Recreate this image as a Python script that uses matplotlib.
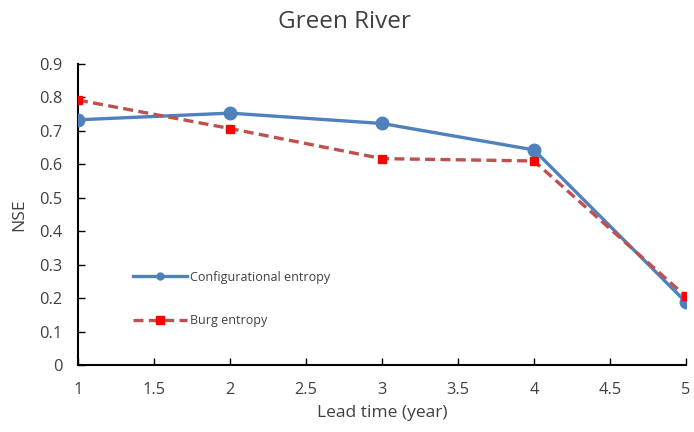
import matplotlib
matplotlib.use("Agg")
import matplotlib.pyplot as plt
from matplotlib.lines import Line2D

lead_time = [1, 2, 3, 4, 5]
configurational = [0.733, 0.753, 0.722, 0.643, 0.188]
burg = [0.792, 0.707, 0.617, 0.610, 0.205]
x_ticks = [1, 1.5, 2, 2.5, 3, 3.5, 4, 4.5, 5]
y_ticks = [0, 0.1, 0.2, 0.3, 0.4, 0.5, 0.6, 0.7, 0.8, 0.9]

plt.rcParams['font.family'] = ['Open Sans', 'DejaVu Sans']
text_grey = '#404040'
blue = '#4F81BD'
red_line = '#C0504D'
red_marker = '#FF0000'
dash = (0, (3, 1.6))

fig = plt.figure(figsize=(6.94, 4.32), dpi=100)
ax = fig.add_axes([0.1124, 0.155, 0.876, 0.697])

ax.plot(lead_time, configurational, color=blue, lw=2.4, marker='o',
        markersize=9, zorder=3)
ax.plot(lead_time, burg, color=red_line, lw=2.4, ls=dash, marker='s',
        markersize=5.5, markerfacecolor=red_marker, markeredgecolor=red_marker,
        zorder=4)

ax.set_xlim(1, 5)
ax.set_ylim(0, 0.9)
ax.set_xticks(x_ticks)
ax.set_xticklabels([f"{t:g}" for t in x_ticks])
ax.set_yticks(y_ticks)
ax.set_yticklabels(["0"] + [f"{t:.1f}" for t in y_ticks[1:]])
ax.tick_params(direction='in', length=5, width=1, labelsize=11.8,
               colors='black', labelcolor=text_grey)
ax.tick_params(axis='y', pad=11)
ax.tick_params(axis='x', pad=12.5)
for side in ('top', 'right'):
    ax.spines[side].set_visible(False)
for side in ('left', 'bottom'):
    ax.spines[side].set_linewidth(1.5)
    ax.spines[side].set_color('black')

fig.text(0.497, 0.948, 'Green River', fontsize=17.5, color=text_grey,
         ha='center', va='center')
ax.set_xlabel('Lead time (year)', fontsize=12.5, color=text_grey, labelpad=5)
ax.set_ylabel('NSE', fontsize=12.5, color=text_grey, labelpad=9)

handles = [
    Line2D([], [], color=blue, lw=2.4, marker='o', markersize=5),
    Line2D([], [], color=red_line, lw=2.4, ls=dash, marker='s', markersize=5.5,
           markerfacecolor=red_marker, markeredgecolor=red_marker),
]
leg = ax.legend(handles, ['Configurational entropy', 'Burg entropy'],
                loc='upper left', bbox_to_anchor=(0.083, 0.33), frameon=False,
                fontsize=9, handlelength=4.3, labelspacing=2.45,
                handletextpad=0.25, borderaxespad=0)
for txt in leg.get_texts():
    txt.set_color(text_grey)

fig.savefig('out.png', dpi=100)
